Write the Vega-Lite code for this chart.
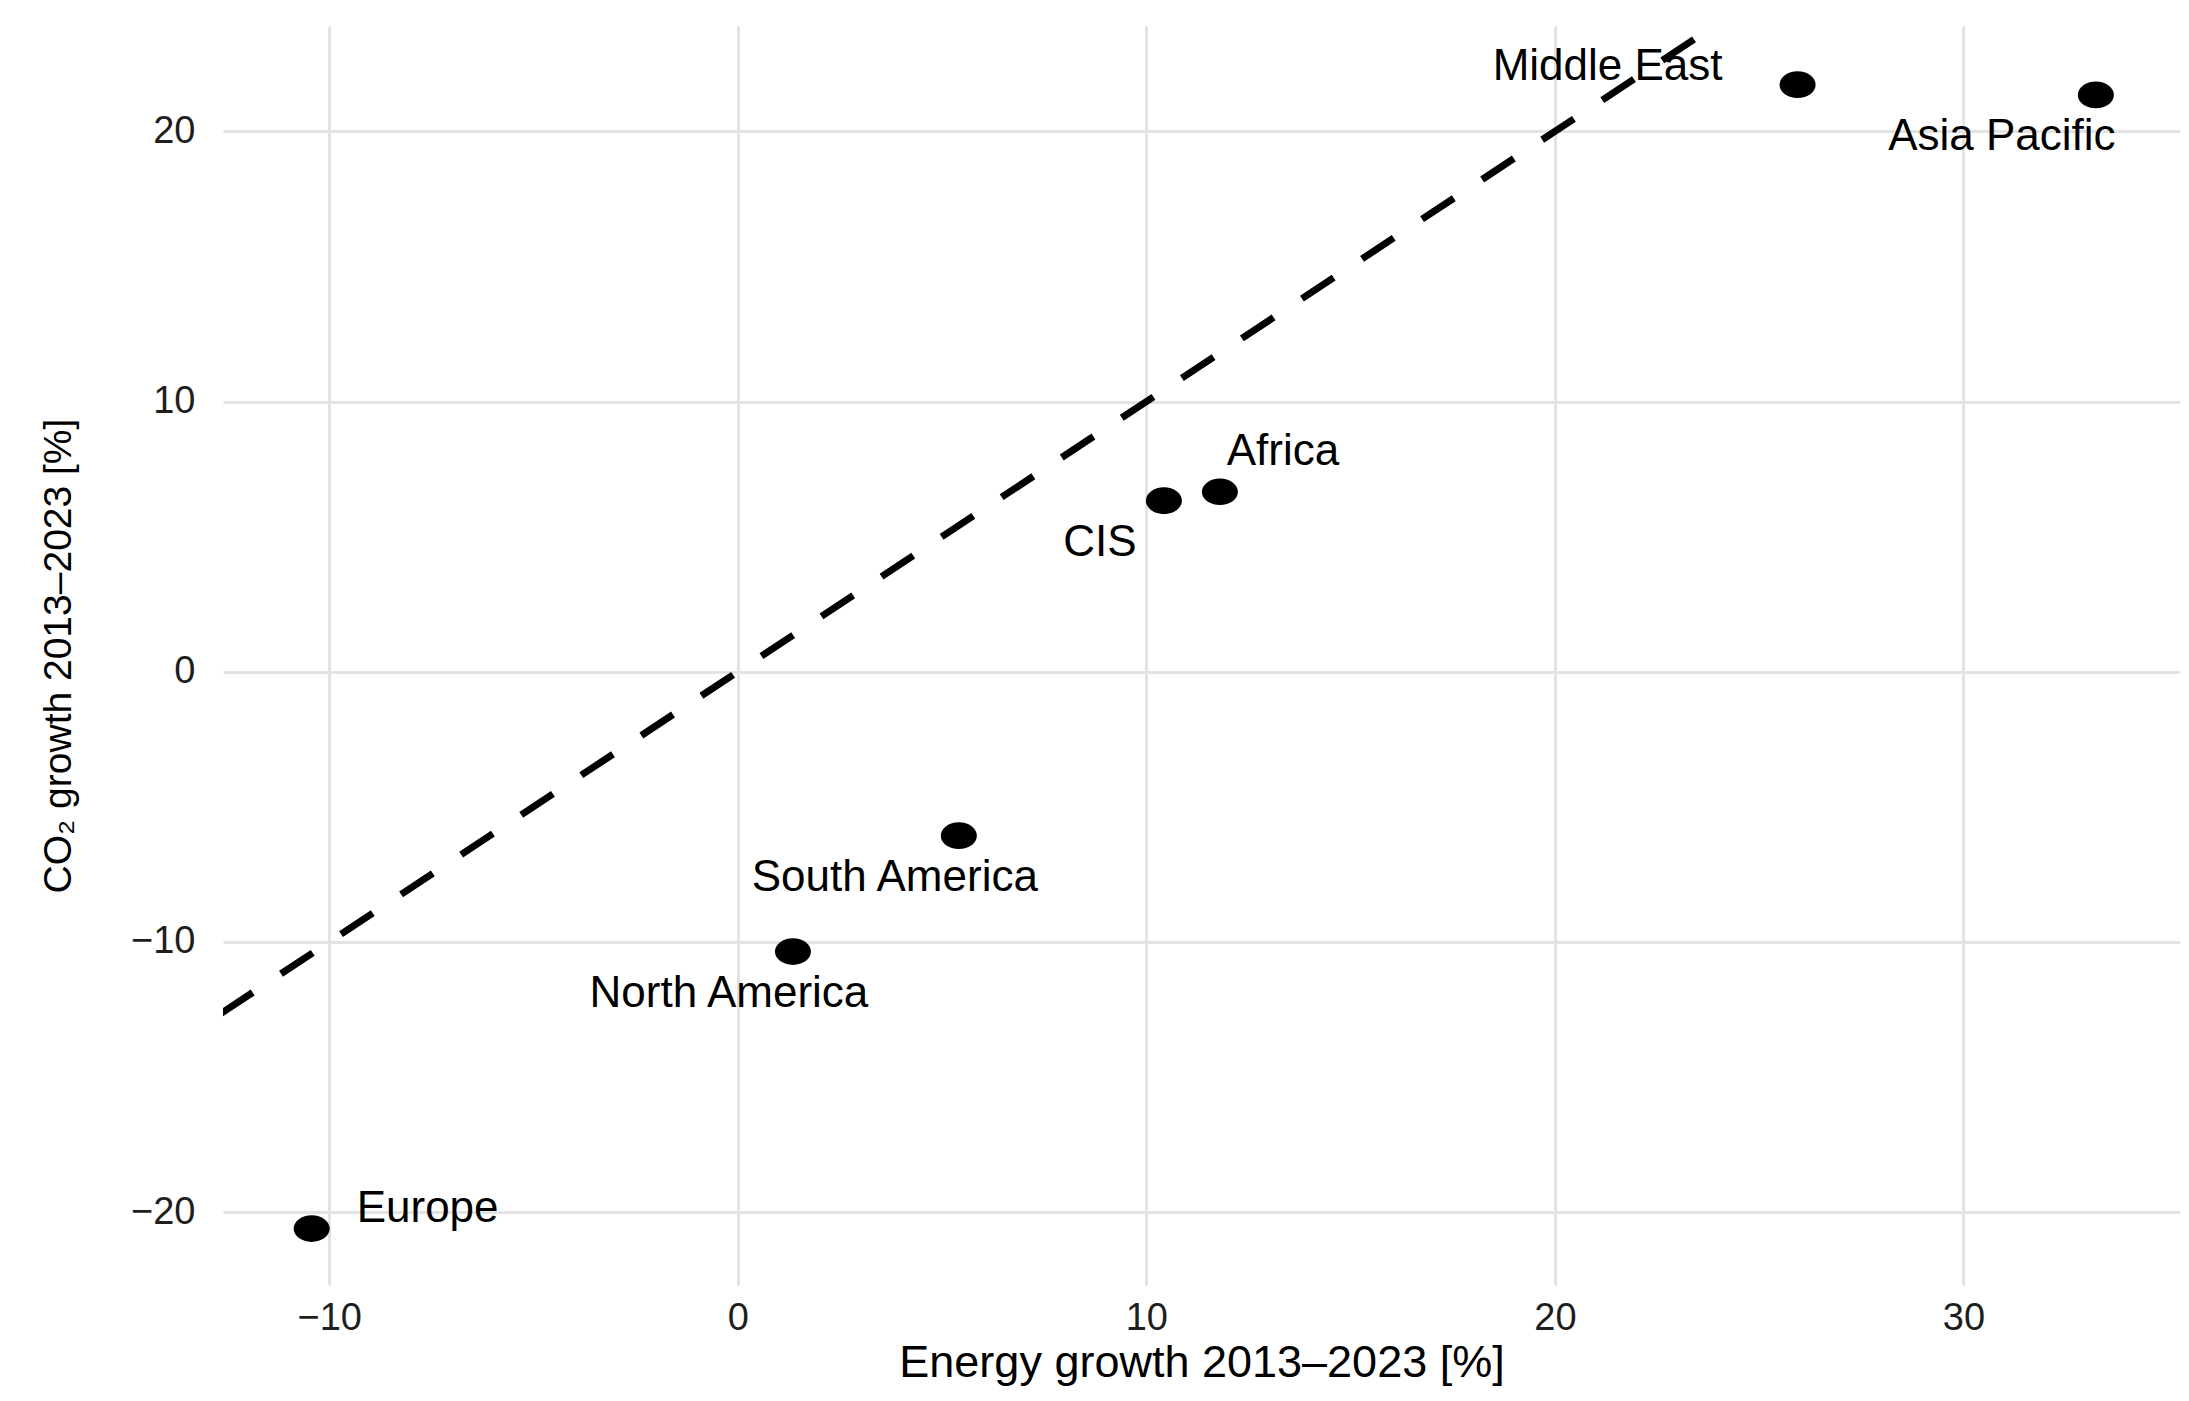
{
  "$schema": "https://vega.github.io/schema/vega-lite/v6.json",
  "autosize": {"type": "none"},
  "width": 1957,
  "height": 1259,
  "padding": {"left": 223, "top": 26, "right": 9, "bottom": 116},
  "background": "white",
  "config": {
    "view": {"stroke": null},
    "font": "Liberation Sans",
    "axis": {
      "domain": false,
      "ticks": false,
      "gridColor": "#E3E3E3",
      "gridWidth": 3,
      "labelFont": "Liberation Sans",
      "labelFontSize": 38,
      "labelColor": "#1E1E1E",
      "titleFont": "Liberation Sans",
      "titleFontWeight": "normal",
      "titleColor": "#000000"
    }
  },
  "data": {
    "values": [
      {"region": "Europe", "energy": -10.43, "co2": -20.61},
      {"region": "North America", "energy": 1.35, "co2": -10.36},
      {"region": "South America", "energy": 5.41, "co2": -6.07},
      {"region": "CIS", "energy": 10.43, "co2": 6.33},
      {"region": "Africa", "energy": 11.8, "co2": 6.66},
      {"region": "Middle East", "energy": 25.94, "co2": 21.73},
      {"region": "Asia Pacific", "energy": 33.24, "co2": 21.35}
    ]
  },
  "encoding": {
    "x": {
      "field": "energy", "type": "quantitative",
      "scale": {"domain": [-12.6, 35.3], "nice": false, "zero": false},
      "axis": {"values": [-10, 0, 10, 20, 30], "title": "Energy growth 2013–2023 [%]", "titleFontSize": 45, "labelPadding": 14, "titlePadding": 3}
    },
    "y": {
      "field": "co2", "type": "quantitative",
      "scale": {"domain": [-22.7, 23.9], "nice": false, "zero": false},
      "axis": {"values": [-20, -10, 0, 10, 20], "title": "CO₂ growth 2013–2023 [%]", "titleFontSize": 39, "labelPadding": 28, "titlePadding": 52}
    }
  },
  "layer": [
    {
      "data": {"values": [{"v": -20}, {"v": 40}]},
      "mark": {"type": "line", "color": "#000000", "strokeWidth": 7, "strokeDash": [38, 34], "clip": true},
      "encoding": {
        "x": {"field": "v", "type": "quantitative"},
        "y": {"field": "v", "type": "quantitative"}
      }
    },
    {
      "mark": {"type": "point", "filled": true, "color": "#000000", "opacity": 1, "size": 1300, "shape": "M -1,0 A 1,0.74 0 1,0 1,0 A 1,0.74 0 1,0 -1,0 Z"}
    },
    {
      "transform": [{"filter": "datum.region === 'Europe'"}],
      "mark": {"type": "text", "fontSize": 44, "align": "left", "baseline": "middle", "dx": 45, "dy": -20, "color": "#000000"},
      "encoding": {"text": {"field": "region"}}
    },
    {
      "transform": [{"filter": "indexof(['North America','South America','CIS'], datum.region) >= 0"}],
      "mark": {"type": "text", "fontSize": 44, "align": "center", "baseline": "middle", "dx": -64, "dy": 42, "color": "#000000"},
      "encoding": {"text": {"field": "region"}}
    },
    {
      "transform": [{"filter": "datum.region === 'Africa'"}],
      "mark": {"type": "text", "fontSize": 44, "align": "center", "baseline": "middle", "dx": 63, "dy": -40, "color": "#000000"},
      "encoding": {"text": {"field": "region"}}
    },
    {
      "transform": [{"filter": "datum.region === 'Middle East'"}],
      "mark": {"type": "text", "fontSize": 44, "align": "center", "baseline": "middle", "dx": -190, "dy": -18, "color": "#000000"},
      "encoding": {"text": {"field": "region"}}
    },
    {
      "transform": [{"filter": "datum.region === 'Asia Pacific'"}],
      "mark": {"type": "text", "fontSize": 44, "align": "center", "baseline": "middle", "dx": -94, "dy": 42, "color": "#000000"},
      "encoding": {"text": {"field": "region"}}
    }
  ]
}
